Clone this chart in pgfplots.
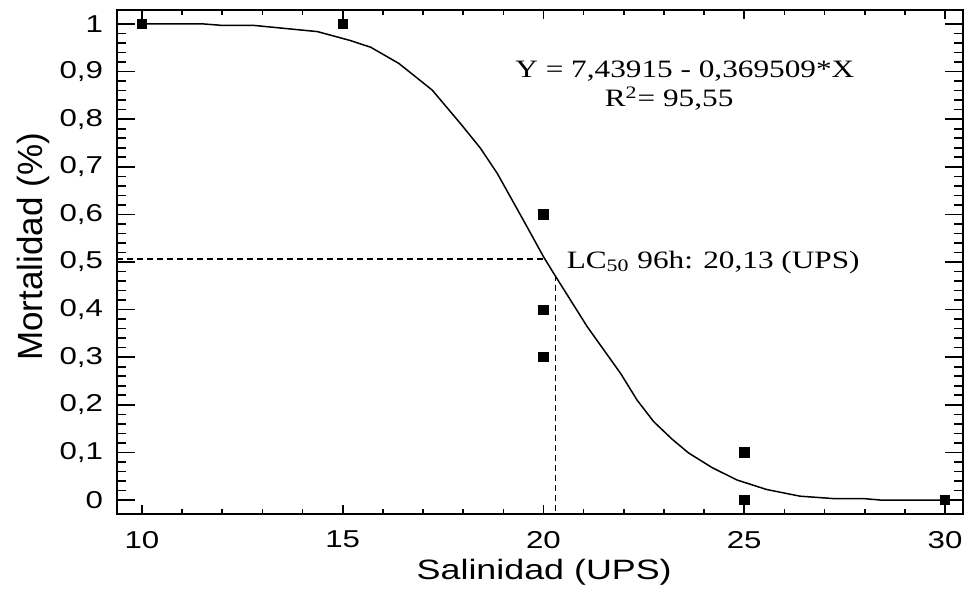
\documentclass[border=0pt]{standalone}
\usepackage{fontspec}
\setmainfont[FakeStretch=1.25]{Liberation Serif}
\setsansfont[FakeStretch=1.28]{Liberation Sans}
\newfontfamily\ylabfont[FakeStretch=1.0]{Liberation Sans}
\usepackage{pgfplots}
\pgfplotsset{compat=1.18}

% shared frame for both axes (same box, same limits)
\pgfplotsset{
  frame/.style={
    width=423pt, height=252pt, scale only axis,
    xmin=9.378, xmax=30.448, ymin=-0.0294, ymax=1.0294,
    axis line style={line width=1pt},
    tick style={line width=0.8pt, black},
    tick align=inside,
    /pgf/number format/assume math mode=true,
    /pgf/number format/use comma,
    tick label style={font=\sffamily\fontsize{12.2}{14}\selectfont},
  },
}

\begin{document}
\begin{tikzpicture}
\begin{axis}[
  frame, name=main,
  xtick={10,15,20,25,30}, minor x tick num=4,
  ytick=\empty,
  major tick length=4.5pt, minor tick length=2.35pt,
  xticklabel style={yshift=-5pt},
  xlabel={Salinidad (UPS)},
  xlabel style={font=\sffamily\fontsize{14}{16}\selectfont,
    at={([yshift=-32.5pt]axis description cs:0.505,0)}, anchor=base},
  ylabel={Mortalidad (\%)},
  ylabel style={font=\ylabfont\fontsize{17.5}{20}\selectfont,
    at={([xshift=-37pt]axis description cs:0,0.53)}, anchor=base},
]
% fitted curve
\addplot[black, line width=0.75pt] coordinates {
  (10,1.0) (11.55,1.0) (12.0,0.997) (12.79,0.997) (14.37,0.984)
  (15.2,0.965) (15.7,0.951) (16.4,0.917) (17.23,0.861) (17.96,0.788)
  (18.43,0.739) (18.85,0.686) (19.22,0.630) (19.59,0.574) (20.0,0.511)
  (20.3,0.47) (21.09,0.364) (21.92,0.266) (22.33,0.21) (22.74,0.165)
  (23.2,0.128) (23.61,0.099) (24.2,0.068) (24.82,0.042) (25.56,0.022)
  (26.39,0.008) (27.22,0.003) (27.97,0.003) (28.38,0.0) (30,0.0)
};
% observed mortality
\addplot[only marks, mark=square*, mark size=2.33pt, black] coordinates {
  (10,1) (15,1) (20,0.6) (20,0.4) (20,0.3) (25,0.1) (25,0) (30,0)
};
% LC50 guide lines
\addplot[black, line width=0.8pt, dash pattern=on 3pt off 2pt] coordinates {
  (9.378,0.506) (19.98,0.506)
};
\addplot[black, line width=0.8pt, dash pattern=on 3pt off 2pt] coordinates {
  (20.30,0.473) (20.30,-0.0294)
};
\node[anchor=base, inner sep=0, font=\rmfamily\fontsize{12.5}{14}\selectfont]
  at (axis cs:23.52,0.888) {Y = 7,43915 - 0,369509*X};
\node[anchor=base, inner sep=0, font=\rmfamily\fontsize{12.5}{14}\selectfont]
  at (axis cs:23.13,0.826) {R\textsuperscript{2}= 95,55};
\node[anchor=base west, inner sep=0, font=\rmfamily\fontsize{12.5}{14}\selectfont]
  at (axis cs:20.57,0.487) {LC\textsubscript{50} 96h: 20,13 (UPS)};
\end{axis}
\begin{axis}[
  frame,
  xtick=\empty,
  ytick={0,0.1,0.2,0.3,0.4,0.5,0.6,0.7,0.8,0.9,1},
  minor y tick num=4,
  major tick length=9pt, minor tick length=4.7pt,
  yticklabel style={xshift=-3.5pt},
]
\end{axis}
\pgfresetboundingbox
\path ([shift={(-58.5pt,-40pt)}]main.south west)
  rectangle ([shift={(0.5pt,5pt)}]main.north east);
\end{tikzpicture}
\end{document}
